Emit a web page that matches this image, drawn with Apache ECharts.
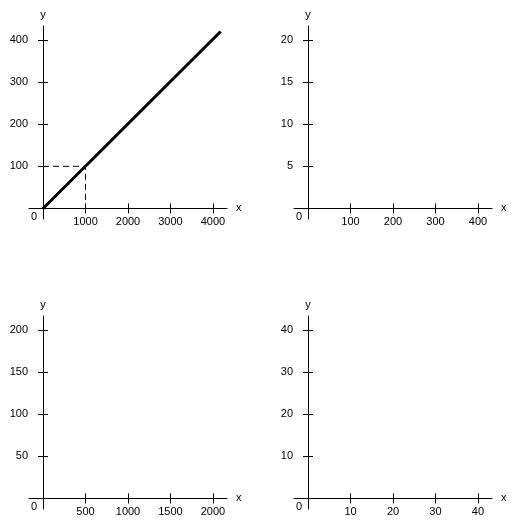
<!DOCTYPE html>
<html><head><meta charset="utf-8">
<script src="https://cdn.jsdelivr.net/npm/echarts@6/dist/echarts.min.js"></script>
<style>html,body{margin:0;padding:0;background:#fff}#c{width:512px;height:526px}</style>
</head><body><div id="c"></div>
<script>
// ---- data ----
const lineX = [0, 4180];
const lineY = [0, 420];
const guideX = [0, 1000, 1000];
const guideY = [100, 100, 0];
const xTicks1 = [1000, 2000, 3000, 4000];
const yTicks1 = [100, 200, 300, 400];
const xTicks2 = [100, 200, 300, 400];
const yTicks2 = [5, 10, 15, 20];
const xTicks3 = [500, 1000, 1500, 2000];
const yTicks3 = [50, 100, 150, 200];
const xTicks4 = [10, 20, 30, 40];
const yTicks4 = [10, 20, 30, 40];
const axisNameX = 'x';
const axisNameY = 'y';
const originLabel = '0';

// ---- layout ----
const FONT = '"Liberation Sans", Arial, sans-serif';
const panels = [
  {xt: xTicks1, yt: yTicks1, left: 29, top: 26},
  {xt: xTicks2, yt: yTicks2, left: 294, top: 26},
  {xt: xTicks3, yt: yTicks3, left: 29, top: 316},
  {xt: xTicks4, yt: yTicks4, left: 294, top: 316}
];
const GW = 198, GH = 193;

const grids = [], xAxes = [], yAxes = [];
const txt = {color: '#000', fontSize: 11, fontFamily: FONT};
const plain = v => String(v);
panels.forEach((p, i) => {
  grids.push({left: p.left, top: p.top, width: GW, height: GH, outerBoundsMode: 'none', containLabel: false});
  const xs = p.xt[0], ys = p.yt[0];
  const xMin = -0.33 * xs, xMax = p.xt[p.xt.length - 1] + 0.33 * xs;
  const yMin = -0.25 * ys, yMax = p.yt[p.yt.length - 1] + 0.33 * ys;
  xAxes.push({
    gridIndex: i, type: 'value', position: 'bottom', min: xMin, max: xMax,
    axisLine: {show: true, onZero: true, onZeroAxisIndex: 2 * i, lineStyle: {color: '#000', width: 1}},
    axisTick: {show: true, length: 5, customValues: p.xt, lineStyle: {color: '#000', width: 1}},
    axisLabel: {show: true, customValues: p.xt, margin: -3, formatter: plain, ...txt},
    splitLine: {show: false},
    name: axisNameX, nameLocation: 'end', nameGap: 9, nameTextStyle: {...txt}
  });
  xAxes.push({
    gridIndex: i, type: 'value', position: 'top', min: xMin, max: xMax,
    axisLine: {show: false, onZero: true, onZeroAxisIndex: 2 * i},
    axisTick: {show: true, length: 5, customValues: p.xt, lineStyle: {color: '#000', width: 1}},
    axisLabel: {show: false}, splitLine: {show: false}
  });
  yAxes.push({
    gridIndex: i, type: 'value', position: 'left', min: yMin, max: yMax,
    axisLine: {show: true, onZero: true, onZeroAxisIndex: 2 * i, lineStyle: {color: '#000', width: 1}},
    axisTick: {show: true, length: 5, customValues: p.yt, lineStyle: {color: '#000', width: 1}},
    axisLabel: {show: true, customValues: p.yt, margin: 1, formatter: plain, ...txt},
    splitLine: {show: false},
    name: axisNameY, nameLocation: 'end', nameGap: 6, nameTextStyle: {...txt}
  });
  yAxes.push({
    gridIndex: i, type: 'value', position: 'right', min: yMin, max: yMax,
    axisLine: {show: false, onZero: true, onZeroAxisIndex: 2 * i},
    axisTick: {show: true, length: 5, customValues: p.yt, lineStyle: {color: '#000', width: 1}},
    axisLabel: {show: false}, splitLine: {show: false}
  });
});

const chart = echarts.init(document.getElementById('c'), null, {renderer: 'canvas'});
chart.setOption({
  animation: false,
  backgroundColor: '#fff',
  textStyle: {fontFamily: FONT},
  grid: grids, xAxis: xAxes, yAxis: yAxes,
  series: [
    {
      type: 'line', xAxisIndex: 0, yAxisIndex: 0,
      data: lineX.map((x, i) => [x, lineY[i]]),
      showSymbol: false, symbol: 'none', silent: true,
      lineStyle: {color: '#000', width: 3}
    },
    {
      type: 'line', xAxisIndex: 0, yAxisIndex: 0,
      data: guideX.map((x, i) => [x, guideY[i]]),
      showSymbol: false, symbol: 'none', silent: true,
      lineStyle: {color: '#000', width: 1, type: [6, 4]}
    }
  ]
});

const graphics = panels.map((p, i) => {
  const o = chart.convertToPixel({xAxisIndex: 2 * i, yAxisIndex: 2 * i}, [0, 0]);
  return {
    type: 'text', x: o[0] - 9, y: o[1] + 9,
    style: {text: originLabel, fill: '#000', font: '11px ' + FONT, align: 'center', verticalAlign: 'middle'}
  };
});
chart.setOption({graphic: graphics});
</script></body></html>
